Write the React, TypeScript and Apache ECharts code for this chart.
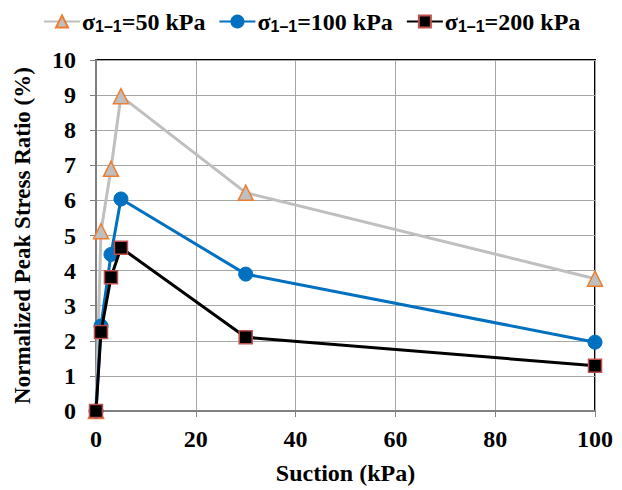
import React, { useEffect, useRef } from "react";
import * as echarts from "echarts";

const suction = [0, 1, 3, 5, 30, 100];
const s50 = [0, 5.12, 6.9, 8.97, 6.22, 3.77];
const s100 = [0, 2.42, 4.46, 6.04, 3.9, 1.96];
const s200 = [0, 2.25, 3.81, 4.65, 2.1, 1.29];
const legendLabels = ["50 kPa", "100 kPa", "200 kPa"];

const SERIF = "Liberation Serif";
const SANS = "Liberation Sans";

export default function App() {
  const ref = useRef<HTMLDivElement>(null);
  useEffect(() => {
    if (!ref.current) return;
    const chart = echarts.init(ref.current, undefined, { renderer: "svg" });
    const pair = (ys: number[]) => suction.map((x, i) => [x, ys[i]]);
    chart.setOption({
      animation: false,
      backgroundColor: "#fff",
      legend: {
        top: 2,
        left: 38,
        itemWidth: 36,
        itemHeight: 15,
        itemGap: 13,
        data: legendLabels,
        formatter: (name: string) => `{s|σ}{sub|1–1}{s|=${name}}`,
        textStyle: {
          padding: [0, 0, 0, -3],
          rich: {
            s: { fontFamily: SERIF, fontWeight: "bold", fontSize: 24, color: "#000", lineHeight: 25, verticalAlign: "middle" },
            sub: { fontFamily: SANS, fontWeight: "bold", fontSize: 16, color: "#000", lineHeight: 16, verticalAlign: "bottom", padding: [11, 0, 0, 0] },
          },
        },
      },
      grid: {
        left: 96,
        right: 27,
        top: 60,
        bottom: 78,
        show: true,
        borderColor: "#000",
        borderWidth: 2,
        backgroundColor: "transparent",
      },
      xAxis: {
        type: "value",
        min: 0,
        max: 100,
        interval: 20,
        name: "Suction (kPa)",
        nameLocation: "middle",
        nameGap: 50,
        nameTextStyle: { fontFamily: SERIF, fontWeight: "bold", fontSize: 24, color: "#000" },
        axisLine: { show: true, onZero: false, lineStyle: { color: "#808080", width: 2 } },
        axisTick: { show: true, length: 6, lineStyle: { color: "#808080", width: 1 } },
        axisLabel: { margin: 16, fontFamily: SERIF, fontWeight: "bold", fontSize: 24, color: "#000" },
        splitLine: { show: true, lineStyle: { color: "#a6a6a6", width: 1 } },
      },
      yAxis: {
        type: "value",
        min: 0,
        max: 10,
        interval: 1,
        name: "Normalized Peak Stress Ratio (%)",
        nameLocation: "middle",
        nameGap: 62,
        nameTextStyle: { fontFamily: SERIF, fontWeight: "bold", fontSize: 23, color: "#000" },
        axisLine: { show: true, lineStyle: { color: "#808080", width: 2 } },
        axisTick: { show: true, length: 6, lineStyle: { color: "#808080", width: 1 } },
        axisLabel: { margin: 20, fontFamily: SERIF, fontWeight: "bold", fontSize: 24, color: "#000" },
        splitLine: { show: true, lineStyle: { color: "#a6a6a6", width: 1 } },
      },
      series: [
        {
          name: legendLabels[0],
          type: "line",
          data: pair(s50),
          symbol: "triangle",
          symbolSize: 15,
          lineStyle: { color: "#bfbfbf", width: 3 },
          itemStyle: { color: "#bfbfbf", borderColor: "#ed7d31", borderWidth: 1.5 },
          z: 2,
        },
        {
          name: legendLabels[1],
          type: "line",
          data: pair(s100),
          symbol: "circle",
          symbolSize: 14,
          lineStyle: { color: "#0070c0", width: 3 },
          itemStyle: { color: "#0070c0", borderColor: "#0070c0", borderWidth: 1 },
          z: 3,
        },
        {
          name: legendLabels[2],
          type: "line",
          data: pair(s200),
          symbol: "rect",
          symbolSize: 13,
          lineStyle: { color: "#000", width: 3 },
          itemStyle: { color: "#000", borderColor: "#c0504d", borderWidth: 1.5 },
          z: 4,
        },
      ],
    });
    return () => chart.dispose();
  }, []);
  return <div ref={ref} style={{ width: 622, height: 490, position: "absolute", left: 0, top: 0 }} />;
}
